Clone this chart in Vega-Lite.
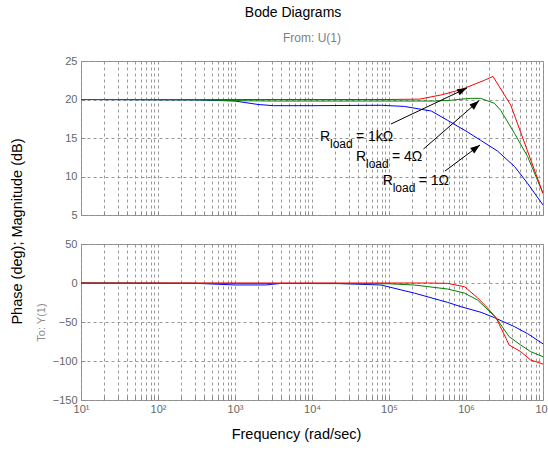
{
  "$schema": "https://vega.github.io/schema/vega-lite/v6.json",
  "background": "white",
  "padding": {"left": 8, "top": 5, "right": 2, "bottom": 5},
  "title": {"text": "Bode Diagrams", "fontSize": 14, "fontWeight": "normal", "color": "#000000", "font": "Liberation Sans", "anchor": "middle", "offset": 12, "dx": 13},
  "spacing": 29,
  "bounds": "flush",
  "datasets": {
    "mag": [
      {"s": "1 Ω", "f": 10, "db": 20},
      {"s": "1 Ω", "f": 316, "db": 19.95},
      {"s": "1 Ω", "f": 1000, "db": 19.8},
      {"s": "1 Ω", "f": 2000, "db": 19.35},
      {"s": "1 Ω", "f": 3162, "db": 19.2},
      {"s": "1 Ω", "f": 10000, "db": 19.2},
      {"s": "1 Ω", "f": 79400, "db": 19.25},
      {"s": "1 Ω", "f": 158489, "db": 19.1},
      {"s": "1 Ω", "f": 354800, "db": 18.5},
      {"s": "1 Ω", "f": 575400, "db": 17.3},
      {"s": "1 Ω", "f": 1000000, "db": 15.9},
      {"s": "1 Ω", "f": 1548800, "db": 14.7},
      {"s": "1 Ω", "f": 2570400, "db": 13.3},
      {"s": "1 Ω", "f": 4265800, "db": 11.3},
      {"s": "1 Ω", "f": 6309573, "db": 9.1},
      {"s": "1 Ω", "f": 10000000, "db": 6.3},
      {"s": "4 Ω", "f": 10, "db": 20},
      {"s": "4 Ω", "f": 316, "db": 19.95},
      {"s": "4 Ω", "f": 1000, "db": 19.85},
      {"s": "4 Ω", "f": 3162, "db": 19.8},
      {"s": "4 Ω", "f": 100000, "db": 19.8},
      {"s": "4 Ω", "f": 398107, "db": 19.8},
      {"s": "4 Ω", "f": 630957, "db": 19.9},
      {"s": "4 Ω", "f": 1148000, "db": 20.15},
      {"s": "4 Ω", "f": 1548800, "db": 20.15},
      {"s": "4 Ω", "f": 2344000, "db": 19.5},
      {"s": "4 Ω", "f": 2818383, "db": 18.6},
      {"s": "4 Ω", "f": 4265800, "db": 15.6},
      {"s": "4 Ω", "f": 6309573, "db": 12.6},
      {"s": "4 Ω", "f": 10000000, "db": 7.8},
      {"s": "1 kΩ", "f": 10, "db": 20},
      {"s": "1 kΩ", "f": 100000, "db": 20},
      {"s": "1 kΩ", "f": 251189, "db": 20.05},
      {"s": "1 kΩ", "f": 478600, "db": 20.6},
      {"s": "1 kΩ", "f": 870964, "db": 21.3},
      {"s": "1 kΩ", "f": 1737800, "db": 22.5},
      {"s": "1 kΩ", "f": 2238721, "db": 23.0},
      {"s": "1 kΩ", "f": 3801894, "db": 19.3},
      {"s": "1 kΩ", "f": 10000000, "db": 7.8}
    ],
    "phase": [
      {"s": "1 Ω", "f": 10, "deg": 0},
      {"s": "1 Ω", "f": 316, "deg": -0.5},
      {"s": "1 Ω", "f": 1000, "deg": -2.5},
      {"s": "1 Ω", "f": 2500, "deg": -2.5},
      {"s": "1 Ω", "f": 4000, "deg": -0.5},
      {"s": "1 Ω", "f": 20000, "deg": -0.5},
      {"s": "1 Ω", "f": 78700, "deg": -2.6},
      {"s": "1 Ω", "f": 213800, "deg": -13},
      {"s": "1 Ω", "f": 575400, "deg": -24.8},
      {"s": "1 Ω", "f": 861000, "deg": -30.4},
      {"s": "1 Ω", "f": 1566800, "deg": -37.6},
      {"s": "1 Ω", "f": 2344000, "deg": -44.5},
      {"s": "1 Ω", "f": 4265800, "deg": -56},
      {"s": "1 Ω", "f": 6309573, "deg": -65},
      {"s": "1 Ω", "f": 10000000, "deg": -78},
      {"s": "4 Ω", "f": 10, "deg": 0},
      {"s": "4 Ω", "f": 100000, "deg": -1},
      {"s": "4 Ω", "f": 213800, "deg": -2.6},
      {"s": "4 Ω", "f": 575400, "deg": -7.7},
      {"s": "4 Ω", "f": 955000, "deg": -13},
      {"s": "4 Ω", "f": 1412538, "deg": -21.8},
      {"s": "4 Ω", "f": 2454709, "deg": -44.5},
      {"s": "4 Ω", "f": 3630780, "deg": -68.8},
      {"s": "4 Ω", "f": 5128600, "deg": -79.5},
      {"s": "4 Ω", "f": 6918300, "deg": -88},
      {"s": "4 Ω", "f": 10000000, "deg": -94.5},
      {"s": "1 kΩ", "f": 10, "deg": 0},
      {"s": "1 kΩ", "f": 316228, "deg": 0},
      {"s": "1 kΩ", "f": 575400, "deg": -0.5},
      {"s": "1 kΩ", "f": 955000, "deg": -4.7},
      {"s": "1 kΩ", "f": 1412538, "deg": -19},
      {"s": "1 kΩ", "f": 1905461, "deg": -32},
      {"s": "1 kΩ", "f": 2454709, "deg": -44.5},
      {"s": "1 kΩ", "f": 3311300, "deg": -71},
      {"s": "1 kΩ", "f": 3630780, "deg": -79.5},
      {"s": "1 kΩ", "f": 5128600, "deg": -88},
      {"s": "1 kΩ", "f": 6918300, "deg": -98.7},
      {"s": "1 kΩ", "f": 10000000, "deg": -104}
    ],
    "notes": [
      {"f": 12706, "db": 14.6, "txt": "= 1kΩ"},
      {"f": 37239, "db": 12.0, "txt": "= 4Ω"},
      {"f": 82800, "db": 8.9, "txt": "= 1Ω"}
    ],
    "arrows": [
      {"f": 106200, "db": 16.82, "f2": 1030000, "db2": 21.49},
      {"f": 280500, "db": 13.57, "f2": 1476000, "db2": 19.84},
      {"f": 533000, "db": 10.71, "f2": 1520000, "db2": 14.09}
    ],
    "heads": [
      {"f": 1030000, "db": 21.49, "heading": 64.6},
      {"f": 1476000, "db": 19.84, "heading": 48.7},
      {"f": 1520000, "db": 14.09, "heading": 53.4}
    ]
  },
  "vconcat": [
    {
      "width": 462,
      "height": 154,
      "title": {"text": "From: U(1)", "fontSize": 12, "fontWeight": "normal", "color": "#808080", "font": "Liberation Sans", "anchor": "middle", "offset": 10},
      "encoding": {
        "x": {"field": "f", "type": "quantitative",
          "scale": {"type": "log", "domain": [10, 10000000], "nice": false},
          "axis": {"title": null, "labels": false, "ticks": true, "tickSize": -4, "tickColor": "#8c8c8c", "domain": false, "grid": true,
            "values": [10,20,30,40,50,60,70,80,90,100,200,300,400,500,600,700,800,900,1000,2000,3000,4000,5000,6000,7000,8000,9000,10000,20000,30000,40000,50000,60000,70000,80000,90000,100000,200000,300000,400000,500000,600000,700000,800000,900000,1000000,2000000,3000000,4000000,5000000,6000000,7000000,8000000,9000000,10000000]}},
        "y": {"field": "db", "type": "quantitative",
          "scale": {"domain": [5, 25], "nice": false, "zero": false},
          "axis": {"values": [5, 10, 15, 20, 25], "grid": true, "labelOverlap": false, "labelBound": false, "labelFlush": false,
            "ticks": true, "tickSize": -4, "tickColor": "#8c8c8c", "labelPadding": 8,
            "title": "Phase (deg); Magnitude (dB)",
            "titleX": -64, "titleY": 170, "titleBaseline": "middle", "titleAlign": "center", "titleAngle": -90,
            "titleFontSize": 14.5, "titleColor": "#000000", "titlePadding": 0}}
      },
      "layer": [
        {
          "data": {"name": "mag"},
          "mark": {"type": "line", "strokeWidth": 1, "clip": true},
          "encoding": {
            "color": {"field": "s", "type": "nominal", "sort": ["1 Ω", "4 Ω", "1 kΩ"],
              "scale": {"domain": ["1 Ω", "4 Ω", "1 kΩ"], "range": ["#0000ff", "#008000", "#ff0000"]}, "legend": null}
          }
        },
        {
          "data": {"name": "arrows"},
          "mark": {"type": "rule", "color": "#000000", "strokeWidth": 1},
          "encoding": {
            "x2": {"field": "f2"},
            "y2": {"field": "db2"}
          }
        },
        {
          "data": {"name": "heads"},
          "mark": {"type": "point", "shape": "M0,0L-0.35,1L0.35,1Z", "filled": true, "color": "#000000", "size": 380, "opacity": 1},
          "encoding": {
            "angle": {"field": "heading", "type": "quantitative", "scale": null}
          }
        },
        {
          "data": {"name": "notes"},
          "mark": {"type": "text", "text": "R", "align": "left", "baseline": "alphabetic", "fontSize": 14, "font": "Liberation Sans", "color": "#000000"},
          "encoding": {}
        },
        {
          "data": {"name": "notes"},
          "mark": {"type": "text", "text": "load", "align": "left", "baseline": "alphabetic", "fontSize": 12, "font": "Liberation Sans", "color": "#000000", "dx": 10, "dy": 7},
          "encoding": {}
        },
        {
          "data": {"name": "notes"},
          "mark": {"type": "text", "align": "left", "baseline": "alphabetic", "fontSize": 14, "font": "Liberation Sans", "color": "#000000", "dx": 36},
          "encoding": {
            "text": {"field": "txt"}
          }
        }
      ]
    },
    {
      "width": 462,
      "height": 156,
      "data": {"name": "phase"},
      "mark": {"type": "line", "strokeWidth": 1, "clip": true},
      "encoding": {
        "x": {"field": "f", "type": "quantitative",
          "scale": {"type": "log", "domain": [10, 10000000], "nice": false},
          "axis": {"title": "Frequency (rad/sec)", "titleFontSize": 14.5, "titleColor": "#000000", "titlePadding": 13, "titleX": 215,
            "grid": true, "ticks": true, "tickSize": -4, "tickColor": "#8c8c8c", "labelPadding": 7, "labelOverlap": false, "labelBound": false, "labelFlush": false,
            "values": [10,20,30,40,50,60,70,80,90,100,200,300,400,500,600,700,800,900,1000,2000,3000,4000,5000,6000,7000,8000,9000,10000,20000,30000,40000,50000,60000,70000,80000,90000,100000,200000,300000,400000,500000,600000,700000,800000,900000,1000000,2000000,3000000,4000000,5000000,6000000,7000000,8000000,9000000,10000000],
            "labelExpr": "datum.value == 10 ? '10¹' : datum.value == 100 ? '10²' : datum.value == 1000 ? '10³' : datum.value == 10000 ? '10⁴' : datum.value == 100000 ? '10⁵' : datum.value == 1000000 ? '10⁶' : datum.value == 10000000 ? '10⁷' : ''"}},
        "y": {"field": "deg", "type": "quantitative",
          "scale": {"domain": [-150, 50], "nice": false, "zero": false},
          "axis": {"values": [-150, -100, -50, 0, 50], "grid": true, "labelOverlap": false, "labelBound": false, "labelFlush": false,
            "ticks": true, "tickSize": -4, "tickColor": "#8c8c8c", "labelPadding": 8,
            "title": "To: Y(1)",
            "titleX": -40, "titleY": 78, "titleBaseline": "middle", "titleAlign": "center", "titleAngle": -90,
            "titleFontSize": 11, "titleColor": "#8c8c8c", "titlePadding": 0}},
        "color": {"field": "s", "type": "nominal", "sort": ["1 Ω", "4 Ω", "1 kΩ"],
          "scale": {"domain": ["1 Ω", "4 Ω", "1 kΩ"], "range": ["#0000ff", "#008000", "#ff0000"]}, "legend": null}
      }
    }
  ],
  "config": {
    "font": "Liberation Sans",
    "view": {"stroke": "#8c8c8c", "strokeWidth": 1},
    "axis": {"domain": false, "ticks": false, "gridColor": "#999999", "gridDash": [3, 3], "gridOpacity": 1, "gridWidth": 1,
      "labelColor": "#666666", "labelFontSize": 11, "labelFont": "Liberation Sans", "titleFont": "Liberation Sans", "titleFontWeight": "normal", "labelPadding": 4}
  }
}
